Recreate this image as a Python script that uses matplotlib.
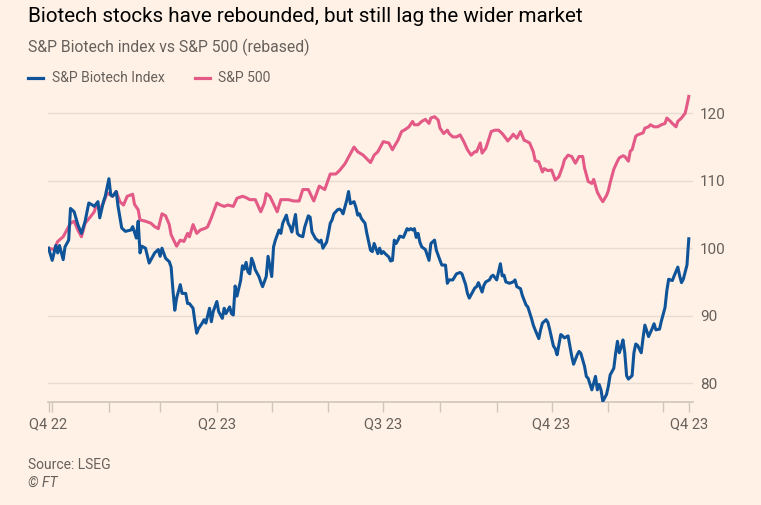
"""S&P Biotech index vs S&P 500, rebased (FT style line chart)."""
import matplotlib
matplotlib.use("Agg")
import matplotlib.pyplot as plt
from matplotlib.lines import Line2D
import pandas as pd

plt.rcParams["font.family"] = ["Roboto", "DejaVu Sans"]

BG = "#FFF1E5"
BLUE = "#0F5499"
PINK = "#E35A87"
GREY = "#66605C"
GRID = "#E7DCD2"
AXIS = "#CFC5BB"

W, H = 761, 505

# --------------------------------------------------------------------------- #
# Data (days counted from 1 Jan 2023, values rebased to 100)
# --------------------------------------------------------------------------- #
base = pd.Timestamp("2023-01-01")

bio_days = [
    -2, 0, 2, 3, 4, 6, 7, 9, 10, 12, 14, 16, 18, 20, 22, 23, 25, 26, 28, 29,
    31, 32, 33, 35, 36, 38, 40, 43, 44, 46, 47, 48, 49, 51, 53, 55, 56, 58, 59, 60,
    62, 64, 65, 66, 67, 68, 70, 71, 73, 74, 75, 77, 78, 79, 80, 82, 83, 84, 86, 87,
    88, 90, 91, 93, 94, 95, 97, 98, 99, 100, 101, 103, 104, 105, 106, 107, 108, 109, 110, 111,
    113, 114, 115, 117, 118, 120, 121, 122, 124, 125, 126, 128, 129, 130, 131, 133, 134, 135, 137, 138,
    140, 141, 142, 144, 145, 146, 147, 148, 150, 151, 152, 153, 154, 156, 157, 158, 159, 160, 161, 162,
    163, 165, 166, 167, 168, 169, 171, 172, 174, 175, 176, 178, 179, 180, 181, 182, 184, 185, 186, 187,
    188, 189, 190, 191, 192, 194, 195, 196, 197, 198, 199, 200, 201, 202, 204, 206, 207, 209, 210, 212,
    213, 215, 216, 217, 219, 221, 223, 224, 226, 227, 228, 229, 231, 232, 233, 235, 236, 237, 239, 240,
    241, 243, 244, 245, 246, 247, 248, 250, 252, 253, 254, 256, 257, 259, 260, 262, 263, 264, 266, 267,
    268, 270, 271, 272, 274, 275, 276, 278, 279, 280, 282, 283, 284, 285, 287, 288, 289, 291, 292, 293,
    295, 296, 297, 298, 299, 300, 301, 303, 304, 305, 307, 308, 309, 310, 311, 312, 313, 314, 315, 317,
    318, 319, 320, 322, 323, 324, 326, 328, 329, 330, 332, 333, 335, 336, 337, 339, 340, 342, 343, 344,
    345, 347, 348,
]
bio_vals = [
    100.0, 98.2, 100.4, 99.3, 100.4, 98.3, 100.2, 101.2, 105.9, 105.4, 103.5, 102.2, 104.0, 106.7, 106.4, 106.2, 106.9, 104.5, 106.9, 107.7,
    110.3, 107.9, 107.7, 108.4, 106.2, 103.0, 102.5, 102.7, 103.2, 101.5, 104.0, 99.3, 100.3, 100.0, 97.8, 98.8, 99.3, 99.8, 98.8, 100.0,
    98.5, 98.0, 97.2, 93.8, 90.8, 92.6, 94.6, 93.3, 93.3, 91.8, 91.8, 91.1, 89.1, 87.4, 88.1, 88.9, 89.4, 88.9, 91.1, 89.1,
    90.6, 92.1, 90.6, 89.6, 91.1, 90.3, 91.3, 90.3, 90.1, 94.4, 92.9, 95.2, 97.4, 96.9, 97.9, 96.5, 96.2, 98.5, 97.8, 96.8,
    95.8, 95.0, 94.3, 95.8, 98.8, 95.8, 100.2, 101.2, 102.7, 102.2, 103.7, 104.9, 103.7, 103.2, 102.4, 105.0, 102.2, 101.9, 101.7, 103.1,
    104.8, 104.6, 102.4, 101.4, 101.2, 100.9, 101.2, 100.0, 100.9, 102.2, 103.7, 104.2, 105.1, 105.7, 105.8, 105.6, 105.1, 106.1, 107.1, 108.4,
    106.6, 106.9, 106.1, 104.9, 105.1, 104.4, 103.7, 102.2, 99.7, 99.5, 100.7, 99.2, 100.0, 99.2, 99.5, 99.2, 98.7, 98.1, 98.2, 101.2,
    100.7, 101.2, 101.8, 101.7, 101.6, 102.9, 102.7, 102.9, 102.7, 102.9, 101.6, 102.2, 100.9, 100.2, 99.8, 98.2, 100.7, 101.2, 99.7, 98.2,
    97.5, 97.5, 94.8, 95.3, 95.3, 96.2, 96.4, 96.2, 94.6, 93.3, 92.6, 93.1, 94.1, 94.3, 94.9, 93.5, 94.5, 95.0, 95.3, 95.8,
    96.0, 95.3, 96.5, 97.7, 95.9, 96.0, 95.0, 94.8, 95.0, 95.3, 94.3, 94.0, 93.0, 91.6, 91.3, 89.6, 88.6, 87.9, 86.6, 87.9,
    88.9, 89.4, 89.0, 87.9, 85.5, 85.1, 84.2, 87.2, 87.0, 86.7, 87.0, 85.5, 84.0, 82.8, 84.2, 84.7, 84.4, 82.5, 81.0, 80.7,
    79.0, 80.0, 81.0, 79.0, 79.8, 79.0, 77.3, 78.3, 79.5, 81.2, 82.2, 84.4, 86.2, 84.5, 85.3, 86.4, 84.5, 81.1, 80.6, 81.1,
    84.5, 85.8, 85.6, 84.5, 86.7, 88.6, 86.9, 88.1, 88.8, 87.9, 88.0, 89.2, 91.2, 93.7, 95.4, 95.2, 95.9, 97.2, 95.9, 94.9,
    95.4, 97.5, 101.4,
]

spx_days = [
    -2, 1, 3, 6, 8, 10, 12, 14, 16, 18, 21, 23, 24, 26, 28, 30, 33, 35, 37, 39,
    41, 44, 45, 47, 48, 51, 54, 56, 58, 60, 62, 64, 65, 68, 70, 72, 74, 75, 77, 79,
    81, 84, 85, 87, 90, 92, 94, 96, 99, 101, 104, 106, 108, 111, 114, 116, 117, 119, 123, 125,
    126, 129, 132, 135, 137, 140, 143, 146, 149, 152, 155, 157, 160, 162, 165, 167, 170, 174, 176, 178,
    181, 184, 186, 187, 189, 191, 193, 195, 197, 198, 200, 202, 204, 206, 207, 209, 211, 212, 214, 216,
    217, 219, 221, 223, 225, 227, 229, 231, 232, 234, 235, 237, 238, 240, 242, 244, 246, 248, 249, 251,
    252, 254, 256, 258, 259, 261, 263, 264, 266, 268, 269, 271, 273, 275, 277, 279, 280, 282, 284, 286,
    288, 290, 291, 293, 295, 296, 298, 300, 301, 303, 304, 305, 307, 309, 310, 312, 313, 315, 316, 317,
    319, 320, 323, 324, 326, 327, 329, 331, 333, 335, 336, 338, 339, 341, 342, 344, 346, 347, 348,
]
spx_vals = [
    100.0, 99.8, 101.0, 101.7, 102.7, 103.7, 104.0, 102.7, 101.7, 103.7, 104.7, 105.4, 106.4, 105.7, 106.7, 108.2, 107.7, 108.4, 106.9, 106.4,
    107.7, 108.0, 106.5, 105.7, 104.2, 104.0, 103.7, 103.2, 102.9, 105.1, 104.8, 103.5, 102.0, 100.3, 101.2, 101.0, 102.2, 101.7, 103.5, 102.2,
    102.7, 103.0, 103.2, 104.5, 106.7, 106.4, 106.2, 106.4, 106.2, 107.4, 107.7, 107.5, 107.2, 107.2, 105.4, 106.7, 108.1, 107.7, 105.4, 107.2,
    107.2, 107.2, 107.0, 107.0, 108.7, 108.7, 107.0, 109.2, 108.7, 111.0, 111.0, 111.5, 112.5, 113.5, 115.0, 114.3, 113.8, 112.7, 113.8, 114.3,
    115.8, 115.6, 114.6, 115.1, 116.0, 117.3, 117.6, 118.0, 118.8, 118.3, 118.3, 118.8, 119.1, 118.5, 119.3, 119.5, 119.0, 117.8, 117.0, 117.5,
    117.0, 116.5, 116.5, 116.8, 115.8, 114.6, 113.8, 114.3, 114.3, 115.6, 114.1, 114.8, 115.6, 117.3, 117.5, 117.5, 117.0, 116.3, 115.9, 116.5,
    116.9, 116.3, 117.3, 116.0, 115.9, 115.6, 114.3, 113.0, 112.8, 111.3, 111.8, 111.5, 111.6, 110.1, 110.6, 112.1, 113.1, 113.8, 113.6, 112.6,
    113.6, 113.6, 111.9, 109.9, 109.6, 110.2, 108.3, 107.3, 106.9, 107.8, 108.5, 109.7, 111.7, 112.9, 113.4, 113.7, 113.6, 112.9, 114.4, 114.6,
    116.6, 116.8, 117.1, 117.8, 118.0, 118.3, 118.0, 118.0, 118.3, 118.5, 119.3, 118.8, 118.5, 118.0, 118.8, 119.3, 120.0, 121.2, 122.5,
]

y_ticks = [80, 90, 100, 110, 120]
label_days = [-2, 90, 181, 273, 348]
x_labels = ["Q4 22", "Q2 23", "Q3 23", "Q4 23", "Q4 23"]
month_starts = pd.date_range("2023-01-01", "2023-12-01", freq="MS")

bio_dates = base + pd.to_timedelta(bio_days, unit="D")
spx_dates = base + pd.to_timedelta(spx_days, unit="D")
label_dates = base + pd.to_timedelta(label_days, unit="D")


def fx(px):
    return px / W


def fy(px):
    return 1 - px / H


# --------------------------------------------------------------------------- #
# Figure
# --------------------------------------------------------------------------- #
fig = plt.figure(figsize=(W / 100, H / 100), dpi=100, facecolor=BG)
ax = fig.add_axes([fx(48), fy(402), (693 - 48) / W, (402 - 89.7) / H])
ax.set_facecolor(BG)

ax.plot(spx_dates, spx_vals, color=PINK, lw=2.2, solid_joinstyle="round", zorder=3)
ax.plot(bio_dates, bio_vals, color=BLUE, lw=2.2, solid_joinstyle="round", zorder=4)

ax.set_ylim(77.2, 123.5)
ax.set_xlim(base + pd.Timedelta(days=-2.3), base + pd.Timedelta(days=350.3))

for side in ("top", "left", "right"):
    ax.spines[side].set_visible(False)
ax.spines["bottom"].set_color(AXIS)
ax.spines["bottom"].set_linewidth(1.2)

ax.yaxis.tick_right()
ax.set_yticks(y_ticks)
ax.set_yticklabels([str(v) for v in y_ticks])
ax.tick_params(axis="y", length=0, pad=5, labelcolor=GREY, labelsize=11)
ax.grid(axis="y", color=GRID, lw=1)
ax.set_axisbelow(True)

ax.set_xticks(label_dates)
ax.set_xticklabels(x_labels)
ax.set_xticks(month_starts, minor=True)
ax.tick_params(axis="x", which="both", length=7, width=1, color=AXIS,
               pad=4, labelcolor=GREY, labelsize=10.5)

# Title block
fig.text(fx(28), fy(22), "Biotech stocks have rebounded, but still lag the wider market",
         fontsize=14.9, color="#000000", va="baseline")
fig.text(fx(28), fy(52), "S&P Biotech index vs S&P 500 (rebased)",
         fontsize=11.3, color=GREY, va="baseline")

# Legend
fig.add_artist(Line2D([fx(28), fx(43)], [fy(78), fy(78)], color=BLUE, lw=2.3,
                      transform=fig.transFigure))
fig.text(fx(52), fy(82), "S&P Biotech Index", fontsize=10, color=GREY, va="baseline")
fig.add_artist(Line2D([fx(195), fx(210)], [fy(78), fy(78)], color=PINK, lw=2.3,
                      transform=fig.transFigure))
fig.text(fx(218), fy(82), "S&P 500", fontsize=10, color=GREY, va="baseline")

# Footer
fig.text(fx(28), fy(469), "Source: LSEG", fontsize=10, color=GREY, va="baseline")
fig.text(fx(28), fy(487), "© FT", fontsize=10, color=GREY, va="baseline", style="italic")

fig.savefig("out.png", dpi=100, facecolor=BG)
